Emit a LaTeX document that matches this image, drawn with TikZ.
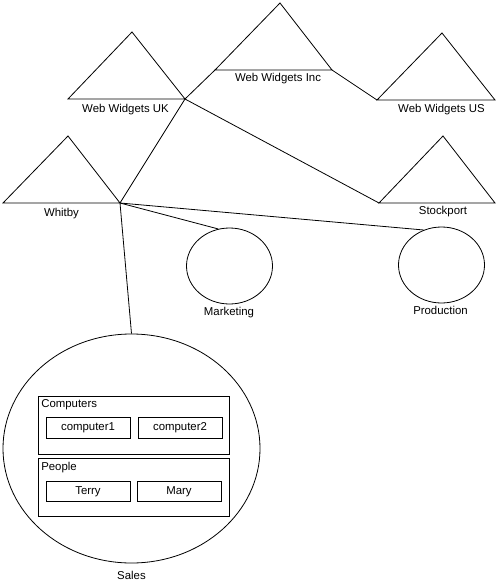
\documentclass[tikz,border=0pt]{standalone}
\usepackage{fontspec}
\setmainfont{Liberation Sans}
\usetikzlibrary{shapes.geometric}
\newcommand{\orgtri}[6]{%
  \coordinate (#1-l) at (#2,#5);
  \coordinate (#1-r) at (#3,#5);
  \coordinate (#1-a) at (#4,#6);
  \draw[orgline] (#1-l) -- (#1-a) -- (#1-r) -- cycle;}

\begin{document}
\begin{tikzpicture}[x=1pt,y=-1pt,
  orgline/.style={line width=0.8pt,line join=miter},
  orglbl/.style={font=\fontsize{11.4}{13}\selectfont,inner sep=0pt,anchor=north},
  dept/.style={draw,ellipse,line width=0.8pt,inner sep=0pt},
  group/.style={draw,rectangle,line width=0.8pt,inner sep=0pt,minimum width=191pt,minimum height=58pt},
  member/.style={draw,rectangle,line width=0.8pt,inner sep=0pt,minimum width=84pt,minimum height=20.5pt,font=\fontsize{11.4}{13}\selectfont}]
\useasboundingbox (0,0) rectangle (499,583);
% ---- companies ----
\orgtri{inc}{215}{332}{280}{70}{3}
\orgtri{wwuk}{68}{185}{132}{99}{32}
\orgtri{wwus}{377}{495}{442}{100}{33}
\orgtri{whitby}{3}{120}{68}{203}{136}
\orgtri{stock}{379}{495}{443}{203}{136}
\node[orglbl] (inc-lbl) at (278,73) {Web Widgets Inc};
\node[orglbl] (wwuk-lbl) at (125.5,104.5) {Web Widgets UK};
\node[orglbl] (wwus-lbl) at (441.5,104.5) {Web Widgets US};
\node[orglbl] (whitby-lbl) at (61.5,208.5) {Whitby};
\node[orglbl] (stock-lbl) at (443,206.5) {Stockport};
% ---- departments ----
\node[dept,minimum width=86pt,minimum height=76pt] (mkt) at (229.5,266) {};
\node[dept,minimum width=86pt,minimum height=76pt] (prod) at (441.5,265) {};
\node[dept,minimum width=257pt,minimum height=229pt] (sales) at (131.5,448.5) {};
\node[orglbl] (mkt-lbl) at (229,307.5) {Marketing};
\node[orglbl] (prod-lbl) at (440.5,306.5) {Production};
\node[orglbl] (sales-lbl) at (131.5,571.5) {Sales};
% grupy w Sales
\node[group] (comp) at (133.5,425) {};
\node[group] (ppl) at (133.5,487) {};
\node[orglbl,anchor=north west] (comp-lbl) at ([shift={(3.5pt,-4pt)}]comp.north west) {Computers};
\node[orglbl,anchor=north west] (ppl-lbl) at ([shift={(3.5pt,-4.5pt)}]ppl.north west) {People};
\node[member] (pc1) at (88,428) {computer1};
\node[member] (pc2) at (180,428) {computer2};
\node[member] (terry) at (88,491.5) {Terry};
\node[member] (mary) at (179,491.5) {Mary};
% ---- connectors ----
\draw[orgline] (wwuk-r) -- (inc-l);
\draw[orgline] (inc-r) -- (wwus-l);
\draw[orgline] (wwuk-r) -- (whitby-r);
\draw[orgline] (wwuk-r) -- (stock-l);
\draw[orgline] (whitby-r) -- (mkt.107);
\draw[orgline] (whitby-r) -- (prod.117);
\draw[orgline] (whitby-r) -- (sales.north);
\end{tikzpicture}
\end{document}
